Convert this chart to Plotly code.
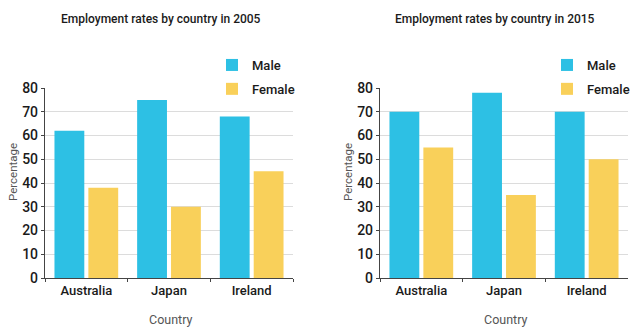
import plotly.graph_objects as go
from plotly.subplots import make_subplots

countries = ["Australia", "Japan", "Ireland"]
male_2005 = [62, 75, 68]
female_2005 = [38, 30, 45]
male_2015 = [70, 78, 70]
female_2015 = [55, 35, 50]
titles = ["Employment rates by country in 2005", "Employment rates by country in 2015"]
y_ticks = [0, 10, 20, 30, 40, 50, 60, 70, 80]

BLUE = "#2DC0E4"
YELLOW = "#F9D05A"
FONT = "Roboto, Liberation Sans, sans-serif"
TXT = "#1a1a1a"
SUB = "#555555"

fig = make_subplots(rows=1, cols=2)

for i, (m, f, lg) in enumerate([(male_2005, female_2005, "legend"), (male_2015, female_2015, "legend2")]):
    col = i + 1
    fig.add_trace(go.Bar(x=countries, y=m, name="Male", marker_color=BLUE,
                         legend=lg, legendgroup=f"m{col}", marker_line_width=0), row=1, col=col)
    fig.add_trace(go.Bar(x=countries, y=f, name="Female", marker_color=YELLOW,
                         legend=lg, legendgroup=f"f{col}", marker_line_width=0), row=1, col=col)

ax_common = dict(showline=True, linecolor="#444", linewidth=1.3, ticks="outside",
                 tickcolor="#444", ticklen=3)

fig.update_xaxes(**ax_common, tickson="boundaries",
                 tickfont=dict(family=FONT, size=13, color=TXT, weight=500))
fig.update_yaxes(**ax_common, range=[0, 80], tickvals=y_ticks, showgrid=True,
                 tickfont=dict(family=FONT, size=14, color=TXT, weight=500),
                 gridcolor="#dcdcdc", gridwidth=1, zeroline=False)

leg_common = dict(xanchor="left", yanchor="top", xref="container", yref="container",
                  font=dict(family=FONT, size=13, color=TXT, weight=500),
                  bgcolor="rgba(0,0,0,0)", tracegroupgap=4, itemwidth=30,
                  traceorder="grouped")

ann = []
for t, cx in zip(titles, [161, 495]):
    ann.append(dict(text=t, x=cx / 640, y=1 - 19 / 335, xref="paper", yref="paper",
                    xanchor="center", yanchor="middle", showarrow=False,
                    font=dict(family=FONT, size=12, color=TXT, weight=500)))
for cx in [170, 505]:
    ann.append(dict(text="Country", x=cx / 640, y=1 - 319 / 335, xref="paper", yref="paper",
                    xanchor="center", yanchor="middle", showarrow=False,
                    font=dict(family=FONT, size=12.5, color=SUB)))
for cx in [13, 348]:
    ann.append(dict(text="Percentage", x=cx / 640, y=1 - 172 / 335, xref="paper", yref="paper",
                    xanchor="center", yanchor="middle", showarrow=False, textangle=-90,
                    font=dict(family=FONT, size=11.5, color=SUB)))

fig.update_layout(
    xaxis=dict(domain=[45 / 640, 293 / 640]),
    xaxis2=dict(domain=[380 / 640, 628 / 640]),
    yaxis=dict(domain=[57 / 335, 247 / 335]),
    yaxis2=dict(domain=[57 / 335, 247 / 335]),
    barmode="group", bargap=0.18, bargroupgap=0.12,
    width=640, height=335, margin=dict(l=0, r=0, t=0, b=0, autoexpand=False),
    paper_bgcolor="white", plot_bgcolor="white",
    font=dict(family=FONT, color=TXT),
    legend=dict(x=212 / 640, y=1 - 50 / 335, **leg_common),
    legend2=dict(x=547 / 640, y=1 - 50 / 335, **leg_common),
    annotations=ann,
)

fig.write_html("out.html")
